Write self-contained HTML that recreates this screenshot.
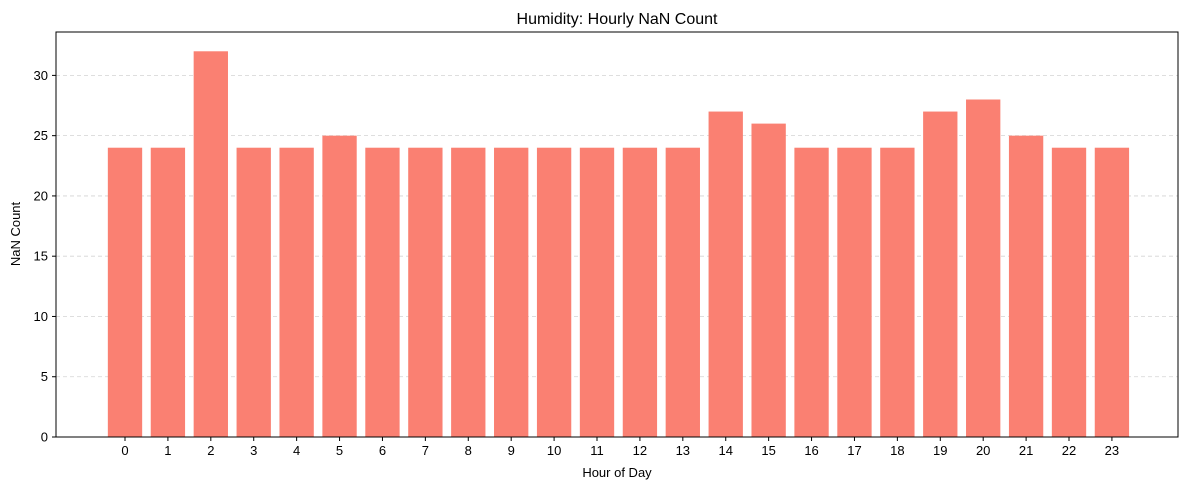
<!DOCTYPE html>
<html><head><meta charset="utf-8"><style>
body{margin:0;background:#fff;}
svg{display:block;font-family:"Liberation Sans","DejaVu Sans",sans-serif;}
</style></head><body>
<svg id="chart" width="1189" height="490" xmlns="http://www.w3.org/2000/svg">
<text x="617" y="24" text-anchor="middle" font-size="16">Humidity: Hourly NaN Count</text>
<g id="grid"></g><g id="bars"></g><g id="axes"></g>
<text x="617" y="477" text-anchor="middle" font-size="13">Hour of Day</text>
<text x="20" y="234" text-anchor="middle" font-size="13" transform="rotate(-90 20 234)">NaN Count</text>
</svg>
<script>
const hours = [0,1,2,3,4,5,6,7,8,9,10,11,12,13,14,15,16,17,18,19,20,21,22,23];
const counts = [24,24,32,24,24,25,24,24,24,24,24,24,24,24,27,26,24,24,24,27,28,25,24,24];
const yTicks = [0,5,10,15,20,25,30];
const NS="http://www.w3.org/2000/svg";
const L=56,R=1178,T=32,B=437;
const xmin=-1.608,xmax=24.54,ymax=33.6;
const xs=v=>L+(v-xmin)/(xmax-xmin)*(R-L);
const ys=v=>B-v/ymax*(B-T);
function mk(tag,attrs,parent){const e=document.createElementNS(NS,tag);for(const k in attrs)e.setAttribute(k,attrs[k]);parent.appendChild(e);return e;}
const grid=document.getElementById('grid'),bars=document.getElementById('bars'),axes=document.getElementById('axes');
yTicks.forEach(t=>{
  const y=ys(t);
  if(t>0){const g=mk('line',{x1:L,x2:R,y1:y,y2:y,stroke:'#d3d3d3','stroke-dasharray':'4,3','stroke-width':0.8},grid);
  
  }
  mk('line',{x1:L-4,x2:L,y1:y,y2:y,stroke:'#000'},axes);
  const tx=mk('text',{x:L-8,y:y+4.5,'text-anchor':'end','font-size':13},axes);
  tx.textContent=t;
  
  
});
const bw=0.8*(xs(1)-xs(0));
hours.forEach((h,i)=>{
  const x=xs(h);
  const r=mk('rect',{x:x-bw/2,y:ys(counts[i]),width:bw,height:B-ys(counts[i]),fill:'#fa8072'},bars);
  
  
  mk('line',{x1:x,x2:x,y1:B,y2:B+4,stroke:'#000'},axes);
  const tx=mk('text',{x:x,y:B+18,'text-anchor':'middle','font-size':13},axes);
  tx.textContent=h;
  
  
});
const f=mk('rect',{x:L,y:T,width:R-L,height:B-T,fill:'none',stroke:'#000','stroke-width':1},axes);


</script>
</body></html>
